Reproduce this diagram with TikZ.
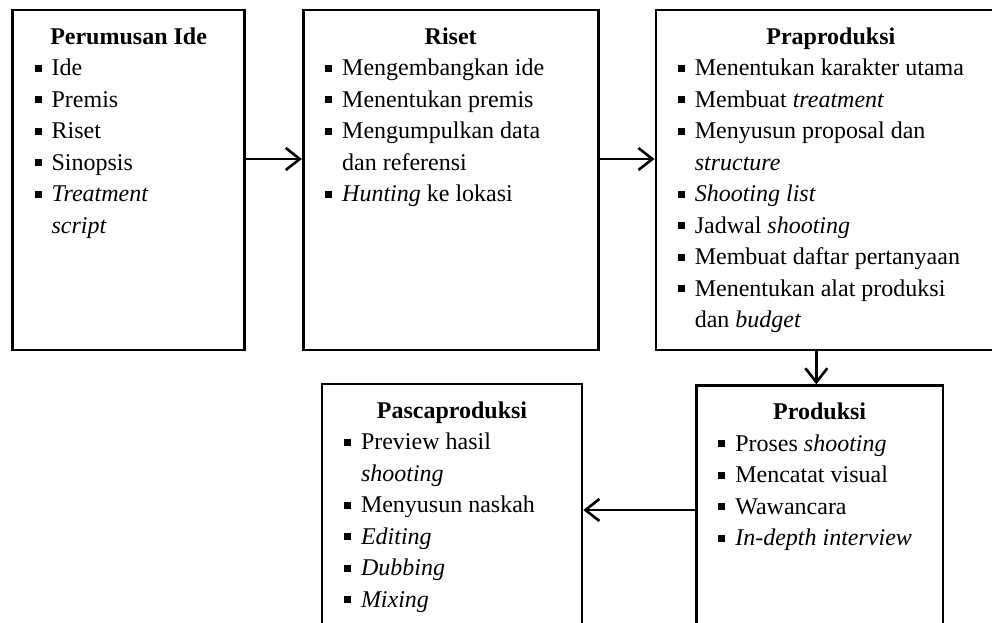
\documentclass[tikz,border=0pt]{standalone}
\usepackage{fontspec}
\setmainfont{Liberation Serif}
\usetikzlibrary{positioning,arrows.meta}
\newcommand\sqbul{\rule[4pt]{7pt}{7pt}}
\newcommand\bul{\par\noindent\hangindent=17pt\hangafter=1\makebox[17pt][l]{\sqbul}}
\newcommand\stagehead[1]{{\centering\bfseries\strut #1\par}}
\tikzset{
stage/.style={
  draw,
  line width=2.6pt,
  inner xsep=22pt,
  inner ysep=12pt,
  anchor=north west,
  font=\fontsize{24}{31.5}\selectfont
  },
flow/.style={
  line width=2.6pt
  }
}

\begin{document}
\begin{tikzpicture}[x=1pt,y=1pt,>={Straight Barb[length=14pt,width=22pt]}]
\useasboundingbox (0,0) rectangle (992,-623);
\clip (0,0) rectangle (992,-623);

\node[stage] at (11.3,-8.7) (ide)
{\parbox[t][316pt][t]{188pt}{\raggedright
\stagehead{Perumusan Ide}
\bul Ide
\bul Premis
\bul Riset
\bul Sinopsis
\bul \textit{Treatment}\newline \textit{script}}};

\node[stage,right=56pt of ide] (riset)
{\parbox[t][316pt][t]{251pt}{\raggedright
\stagehead{Riset}
\bul Mengembangkan ide
\bul Menentukan premis
\bul Mengumpulkan data\newline dan referensi
\bul \textit{Hunting} ke lokasi}};

\node[stage,right=55pt of riset] (pra)
{\parbox[t][316pt][t]{306pt}{\raggedright
\stagehead{Praproduksi}
\bul Menentukan karakter utama
\bul Membuat \textit{treatment}
\bul Menyusun proposal dan\newline \textit{structure}
\bul \textit{Shooting list}
\bul Jadwal \textit{shooting}
\bul Membuat daftar pertanyaan
\bul Menentukan alat produksi\newline dan \textit{budget}}};

\node[stage] at (695,-384.3) (prod)
{\parbox[t][250pt][t]{202.7pt}{\raggedright
\stagehead{Produksi}
\bul Proses \textit{shooting}
\bul Mencatat visual
\bul Wawancara
\bul \textit{In-depth interview}}};

\node[stage] at (320.7,-382.7) (pasca)
{\parbox[t][250pt][t]{216pt}{\raggedright
\stagehead{Pascaproduksi}
\bul Preview hasil\newline \textit{shooting}
\bul Menyusun naskah
\bul \textit{Editing}
\bul \textit{Dubbing}
\bul \textit{Mixing}}};

% connectors
\coordinate (a1) at ([yshift=21pt]ide.east);
\coordinate (a2) at ([yshift=21pt]riset.east);
\coordinate (a3) at ([xshift=-3.3pt]prod.north);
\coordinate (a4) at ([yshift=-125.7pt]prod.north west);
\draw[flow,->] (a1) -- (a1 -| riset.west);
\draw[flow,->] (a2) -- (a2 -| pra.west);
\draw[flow,->] (a3 |- pra.south) -- (a3);
\draw[flow,->] (a4) -- (a4 -| pasca.east);
\end{tikzpicture}
\end{document}
